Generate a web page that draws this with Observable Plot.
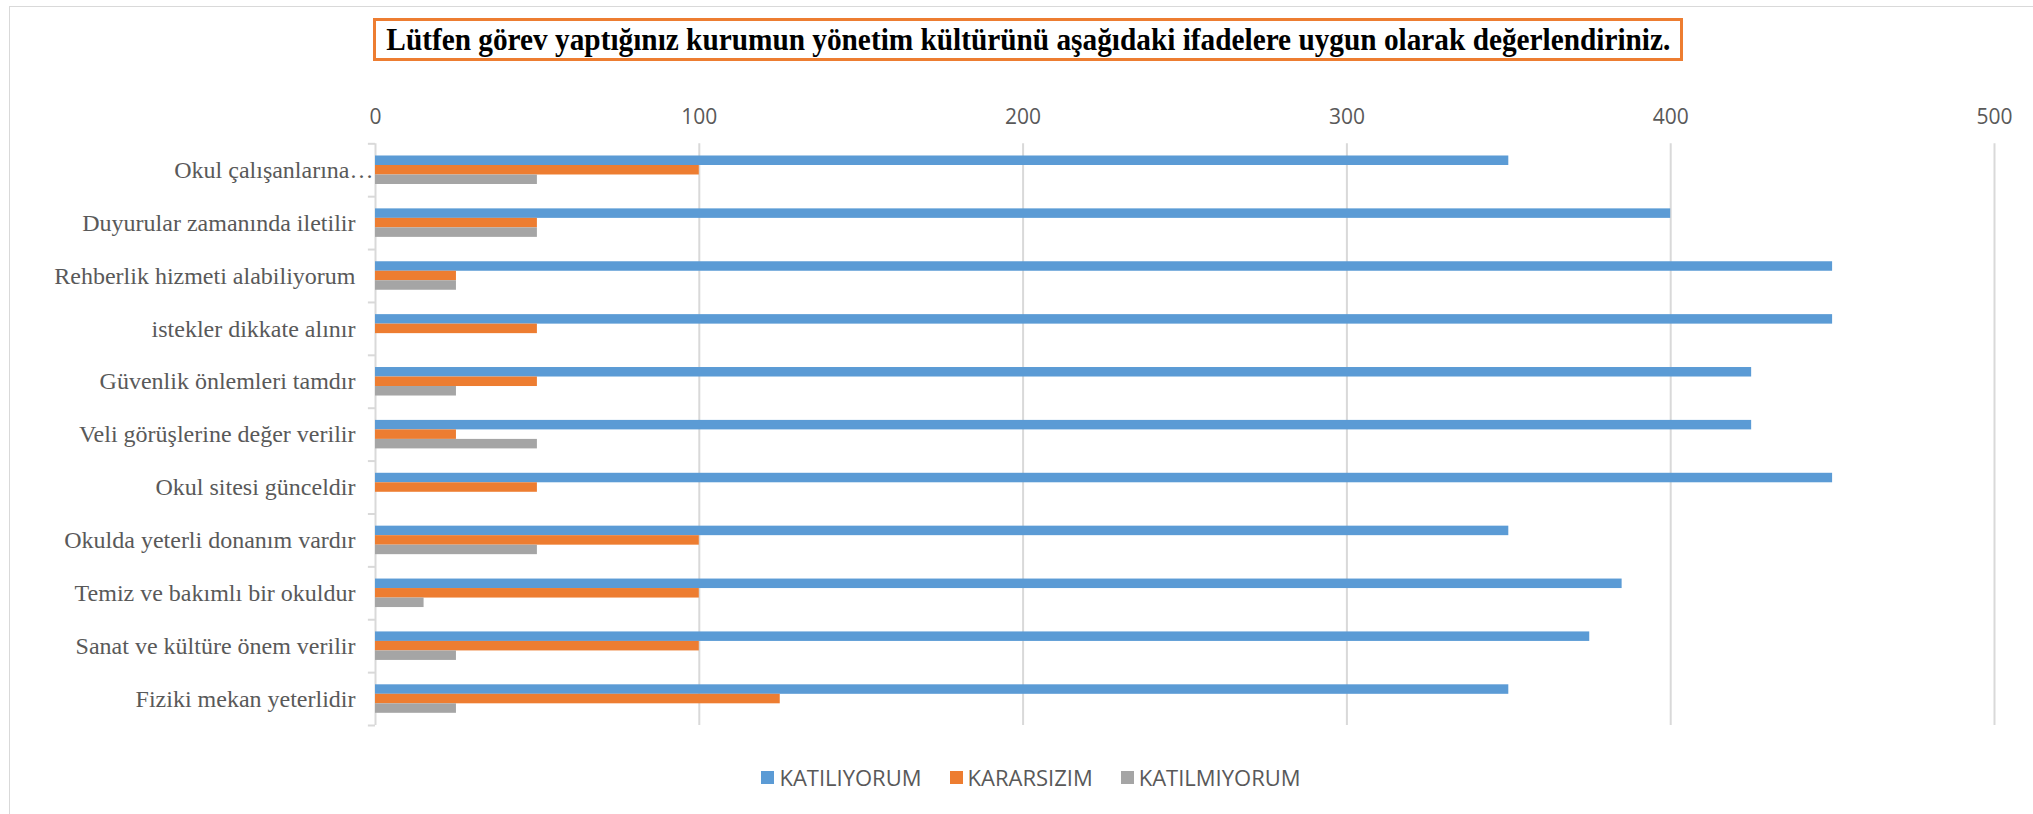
<!DOCTYPE html>
<html>
<head>
<meta charset="utf-8">
<script src="https://cdn.jsdelivr.net/npm/d3@7"></script>
<script src="https://cdn.jsdelivr.net/npm/@observablehq/plot@0.6"></script>
<style>
  html, body { margin: 0; padding: 0; background: #fff; }
  #wrap { position: relative; width: 2033px; height: 814px; overflow: hidden; }
  #frame { position: absolute; left: 9px; top: 6px; width: 2030px; height: 812px; border: 1.5px solid #d9d9d9; box-sizing: border-box; }
  #title { position: absolute; left: 373px; top: 18px; width: 1310px; height: 43px; box-sizing: border-box;
           border: 3px solid #ED7D31; display: flex; align-items: center; justify-content: center; white-space: nowrap; overflow: visible; }
  #title span { font-family: "Liberation Serif", serif; font-weight: bold; font-size: 31px; color: #000;
           display: inline-block; transform: scaleX(0.945); transform-origin: center; }
  #chart { position: absolute; left: 0; top: 70px; }
  #legend { position: absolute; left: 0; top: 762px; width: 2033px; display: flex; justify-content: center; gap: 28px;
            font-family: "Open Sans", sans-serif; font-size: 22px; color: #595959; padding-left: 29px; box-sizing: border-box; }
  .item { display: flex; align-items: center; gap: 5px; }
  .sw { width: 13px; height: 13px; display: inline-block; }
</style>
</head>
<body>
<div id="wrap">
  <div id="frame"></div>
  <div id="title"><span id="titleText"></span></div>
  <div id="chart"></div>
  <div id="legend"></div>
</div>
<script>
const titleText = "Lütfen görev yaptığınız kurumun yönetim kültürünü aşağıdaki ifadelere uygun olarak değerlendiriniz.";
const categories = [
  "Okul çalışanlarına…",
  "Duyurular zamanında iletilir",
  "Rehberlik hizmeti alabiliyorum",
  "istekler dikkate alınır",
  "Güvenlik önlemleri tamdır",
  "Veli görüşlerine değer verilir",
  "Okul sitesi günceldir",
  "Okulda yeterli donanım vardır",
  "Temiz ve bakımlı bir okuldur",
  "Sanat ve kültüre önem verilir",
  "Fiziki mekan yeterlidir"
];
const seriesNames = ["KATILIYORUM", "KARARSIZIM", "KATILMIYORUM"];
const seriesColors = ["#5B9BD5", "#ED7D31", "#A5A5A5"];
const katiliyorum = [350, 400, 450, 450, 425, 425, 450, 350, 385, 375, 350];
const kararsizim = [100, 50, 25, 50, 50, 25, 50, 100, 100, 100, 125];
const katilmiyorum = [50, 50, 25, 0, 25, 50, 0, 50, 15, 25, 25];
const xTicks = [0, 100, 200, 300, 400, 500];

document.getElementById("titleText").textContent = titleText;

const values = [katiliyorum, kararsizim, katilmiyorum];
const rows = [];
seriesNames.forEach((s, si) => categories.forEach((c, ci) => rows.push({category: c, series: s, value: values[si][ci]})));

const H = 680, mTop = 73.3, mBottom = 25;
const band = (H - mTop - mBottom) / categories.length;
const barH = 9.5, groupTop = (band - 3 * barH) / 2;
const barMarks = seriesNames.map((s, si) => Plot.barX(rows.filter(r => r.series === s), {
  x: "value", y: "category", fill: seriesColors[si],
  insetTop: groupTop + si * barH,
  insetBottom: band - (groupTop + (si + 1) * barH)
}));

const gray = "#d9d9d9";
const tickFont = "Open Sans, sans-serif";
const catFont = "Liberation Serif, serif";

const plot = Plot.plot({
  width: 2033,
  height: H,
  marginTop: mTop,
  marginBottom: mBottom,
  marginLeft: 375,
  marginRight: 39,
  style: {background: "transparent", overflow: "visible"},
  x: {domain: [0, 500], axis: null, label: null},
  y: {domain: categories, padding: 0, round: false, axis: null, label: null},
  marks: [
    Plot.gridX(xTicks, {stroke: gray, strokeOpacity: 1, strokeWidth: 2}),
    Plot.axisX(xTicks, {anchor: "top", label: null, tickSize: 0, tickPadding: 20, fontSize: 21, fontFamily: tickFont, fill: "#595959", tickFormat: d => String(d)}),
    Plot.axisY(categories.slice(0, 1), {anchor: "left", label: null, tickSize: 0, tickPadding: 2, fontSize: 24, fontFamily: catFont, fill: "#595959"}),
    Plot.axisY(categories.slice(1), {anchor: "left", label: null, tickSize: 0, tickPadding: 20, fontSize: 24, fontFamily: catFont, fill: "#595959"}),
    Plot.ruleY(categories, {y: d => d, dy: -band / 2, x1: -2.2, x2: 0, stroke: gray, strokeWidth: 2}),
    Plot.ruleY(categories.slice(-1), {y: d => d, dy: band / 2, x1: -2.2, x2: 0, stroke: gray, strokeWidth: 2}),
    ...barMarks
  ]
});
document.getElementById("chart").appendChild(plot);

const legend = document.getElementById("legend");
seriesNames.forEach((s, i) => {
  const it = document.createElement("div");
  it.className = "item";
  const sw = document.createElement("span");
  sw.className = "sw";
  sw.style.background = seriesColors[i];
  const tx = document.createElement("span");
  tx.textContent = s;
  it.appendChild(sw); it.appendChild(tx);
  legend.appendChild(it);
});
</script>
</body>
</html>
